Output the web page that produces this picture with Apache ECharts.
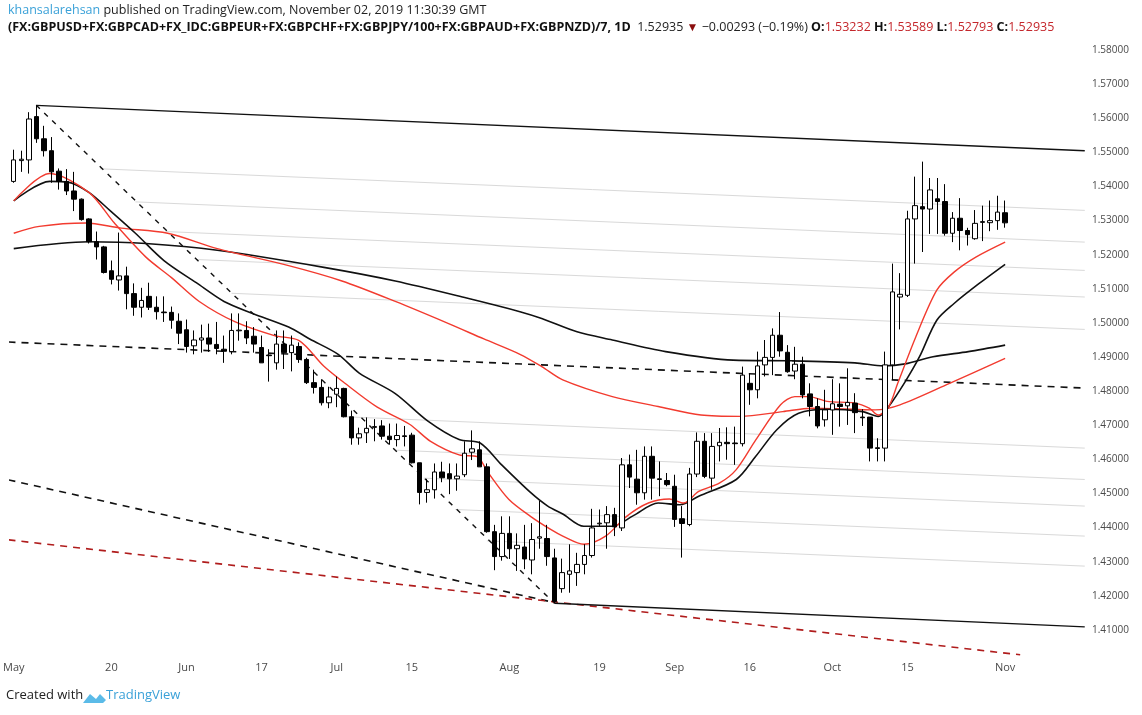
<!DOCTYPE html>
<html><head><meta charset="utf-8">
<script src="https://cdn.jsdelivr.net/npm/echarts@6/dist/echarts.min.js"></script>
<style>html,body{margin:0;padding:0;background:#fff}#c{width:1142px;height:715px}</style>
</head><body><div id="c"></div>
<script>
// OHLC per trading day, [open, close, low, high]
const candles = [
[1.5415,1.5478,1.5411,1.5508],[1.5476,1.5480,1.5443,1.5505],[1.5478,1.5598,1.5438,1.5618],[1.5605,1.5540,1.5528,1.5638],
[1.5540,1.5505,1.5488,1.5578],[1.5505,1.5443,1.5411,1.5545],[1.5445,1.5415,1.5391,1.5453],[1.5415,1.5387,1.5375,1.5451],
[1.5387,1.5363,1.5328,1.5443],[1.5363,1.5303,1.5300,1.5365],[1.5305,1.5238,1.5233,1.5307],[1.5238,1.5223,1.5186,1.5268],
[1.5223,1.5148,1.5145,1.5226],[1.5153,1.5128,1.5113,1.5183],[1.5126,1.5138,1.5095,1.5265],[1.5138,1.5086,1.5040,1.5165],
[1.5086,1.5046,1.5021,1.5116],[1.5046,1.5066,1.5016,1.5103],[1.5078,1.5046,1.5038,1.5118],[1.5046,1.5033,1.5010,1.5078],
[1.5032,1.5030,1.5003,1.5078],[1.5031,1.5008,1.4983,1.5048],[1.5005,1.4970,1.4938,1.5028],[1.4980,1.4931,1.4913,1.5010],
[1.4933,1.4950,1.4908,1.4978],[1.4950,1.4956,1.4913,1.4995],[1.4956,1.4938,1.4915,1.4998],[1.4937,1.4925,1.4908,1.5003],
[1.4923,1.4917,1.4883,1.4963],[1.4916,1.4978,1.4908,1.5028],[1.4977,1.4979,1.4948,1.5028],[1.4978,1.4956,1.4938,1.5005],
[1.4961,1.4938,1.4913,1.4988],[1.4928,1.4883,1.4883,1.4963],[1.4906,1.4904,1.4828,1.4923],[1.4883,1.4938,1.4863,1.4978],
[1.4938,1.4913,1.4865,1.4978],[1.4913,1.4935,1.4858,1.4963],[1.4931,1.4893,1.4883,1.4943],[1.4893,1.4825,1.4821,1.4898],
[1.4825,1.4811,1.4793,1.4863],[1.4811,1.4766,1.4758,1.4835],[1.4766,1.4783,1.4750,1.4813],[1.4791,1.4808,1.4753,1.4843],
[1.4808,1.4725,1.4723,1.4810],[1.4725,1.4663,1.4643,1.4743],[1.4663,1.4675,1.4643,1.4693],[1.4678,1.4691,1.4648,1.4723],
[1.4696,1.4694,1.4653,1.4718],[1.4698,1.4668,1.4658,1.4715],[1.4668,1.4658,1.4643,1.4705],[1.4658,1.4670,1.4638,1.4705],
[1.4669,1.4667,1.4638,1.4698],[1.4671,1.4590,1.4588,1.4678],[1.4590,1.4503,1.4468,1.4590],[1.4503,1.4511,1.4473,1.4543],
[1.4511,1.4563,1.4485,1.4588],[1.4563,1.4546,1.4533,1.4593],[1.4558,1.4543,1.4498,1.4588],[1.4543,1.4551,1.4508,1.4588],
[1.4555,1.4618,1.4548,1.4653],[1.4621,1.4631,1.4598,1.4685],[1.4628,1.4578,1.4578,1.4653],[1.4578,1.4388,1.4385,1.4588],
[1.4388,1.4315,1.4275,1.4408],[1.4315,1.4383,1.4303,1.4433],[1.4383,1.4338,1.4308,1.4433],[1.4338,1.4348,1.4273,1.4383],
[1.4343,1.4308,1.4278,1.4408],[1.4305,1.4365,1.4263,1.4413],[1.4369,1.4373,1.4338,1.4478],[1.4368,1.4315,1.4288,1.4408],
[1.4311,1.4183,1.4178,1.4338],[1.4221,1.4268,1.4209,1.4309],[1.4263,1.4273,1.4209,1.4351],[1.4268,1.4292,1.4229,1.4326],
[1.4292,1.4318,1.4263,1.4351],[1.4318,1.4399,1.4312,1.4455],[1.4411,1.4413,1.4404,1.4453],[1.4414,1.4438,1.4338,1.4463],
[1.4438,1.4402,1.4375,1.4458],[1.4399,1.4584,1.4390,1.4604],[1.4584,1.4548,1.4516,1.4614],[1.4542,1.4502,1.4467,1.4628],
[1.4502,1.4609,1.4482,1.4638],[1.4609,1.4545,1.4482,1.4638],[1.4543,1.4541,1.4492,1.4594],[1.4538,1.4526,1.4521,1.4560],
[1.4521,1.4424,1.4402,1.4555],[1.4426,1.4412,1.4312,1.4463],[1.4409,1.4557,1.4404,1.4575],[1.4557,1.4653,1.4548,1.4679],
[1.4653,1.4550,1.4545,1.4677],[1.4545,1.4638,1.4511,1.4677],[1.4640,1.4650,1.4594,1.4692],[1.4650,1.4646,1.4599,1.4694],
[1.4648,1.4646,1.4584,1.4696],[1.4646,1.4847,1.4638,1.4872],[1.4823,1.4804,1.4760,1.4852],[1.4804,1.4874,1.4779,1.4916],
[1.4877,1.4899,1.4843,1.4950],[1.4899,1.4964,1.4847,1.4984],[1.4964,1.4918,1.4901,1.5032],[1.4914,1.4857,1.4854,1.4935],
[1.4859,1.4879,1.4835,1.4930],[1.4879,1.4789,1.4779,1.4901],[1.4792,1.4755,1.4726,1.4823],[1.4755,1.4698,1.4691,1.4779],
[1.4716,1.4745,1.4696,1.4804],[1.4745,1.4763,1.4672,1.4835],[1.4762,1.4755,1.4696,1.4823],[1.4757,1.4767,1.4701,1.4867],
[1.4765,1.4737,1.4677,1.4794],[1.4724,1.4722,1.4698,1.4747],[1.4724,1.4633,1.4594,1.4724],[1.4634,1.4632,1.4594,1.4662],
[1.4633,1.4877,1.4594,1.4916],[1.4877,1.5091,1.4833,1.5174],[1.5076,1.5084,1.4981,1.5146],[1.5081,1.5305,1.5076,1.5329],
[1.5305,1.5344,1.5174,1.5429],[1.5341,1.5334,1.5208,1.5473],[1.5334,1.5390,1.5261,1.5425],[1.5364,1.5356,1.5261,1.5425],
[1.5356,1.5263,1.5256,1.5407],[1.5263,1.5307,1.5237,1.5325],[1.5307,1.5271,1.5213,1.5366],[1.5271,1.5259,1.5227,1.5279],
[1.5247,1.5292,1.5244,1.5331],[1.5297,1.5295,1.5240,1.5344],[1.5294,1.5300,1.5269,1.5359],[1.5300,1.5325,1.5273,1.5373],
[1.53232,1.52935,1.52793,1.53589]
];
const extraSlots = 10;
const tickIndex = [0,13,23,33,43,53,66,78,88,98,109,119,132];
const tickText = ['May','20','Jun','17','Jul','15','Aug','19','Sep','16','Oct','15','Nov'];
// moving averages read at sample points [dayIndex, value]
const maRedFast = [[0,1.5358],[4.8,1.5438],[10,1.5383],[13.4,1.5293],[17.6,1.5193],[21,1.5133],[24.7,1.5063],[29.5,1.5003],[34.7,1.4963],[38,1.4948],[41.3,1.4873],[44.1,1.4823],[48.4,1.4753],[52.7,1.4703],[55.5,1.4653],[59.3,1.4613],[61.7,1.4608],[63.1,1.4563],[65.9,1.4483],[68.8,1.4433],[71.6,1.4393],[73.1,1.4375],[75.9,1.4351],[78.8,1.4375],[81.6,1.4433],[84.5,1.4472],[87.3,1.4484],[89.2,1.4472],[91.2,1.4506],[94,1.4531],[96.2,1.4570],[98.8,1.4657],[102.1,1.4760],[104,1.4784],[105.9,1.4784],[108.3,1.4770],[112,1.4765],[113.9,1.4750],[115.1,1.4730],[116.5,1.4755],[117.7,1.4823],[120.1,1.4959],[122.9,1.5096],[125.2,1.5149],[128.1,1.5193],[132,1.5237]];
const maBlackFast = [[0,1.5358],[4.8,1.5415],[7.2,1.5413],[10,1.5383],[12.9,1.5328],[16.2,1.5263],[20,1.5183],[24.3,1.5118],[28,1.5063],[31.8,1.5028],[36.6,1.4988],[39.4,1.4953],[43.2,1.4908],[46,1.4853],[50.8,1.4793],[55.1,1.4713],[59.3,1.4658],[62.1,1.4648],[65,1.4583],[68.8,1.4503],[71.1,1.4463],[73.1,1.4440],[75.9,1.4404],[79.7,1.4404],[82.5,1.4435],[85.8,1.4472],[88.7,1.4467],[91.2,1.4492],[96.2,1.4541],[98.8,1.4609],[101.6,1.4687],[104.5,1.4735],[108.3,1.4747],[113,1.4740],[115.1,1.4726],[116.5,1.4755],[118.7,1.4828],[120.6,1.4901],[122.9,1.5008],[125.2,1.5057],[128.5,1.5115],[132,1.5172]];
const maRedSlow = [[0,1.5263],[3.4,1.5283],[9.6,1.5293],[14.3,1.5278],[20.5,1.5263],[27.1,1.5218],[36.6,1.5168],[43.7,1.5123],[50.8,1.5063],[57.9,1.4998],[62.6,1.4953],[67.4,1.4908],[70.3,1.4872],[73.1,1.4833],[79.7,1.4784],[85.8,1.4755],[91.5,1.4730],[96.7,1.4726],[102.4,1.4740],[106.2,1.4750],[114.7,1.4745],[118,1.4760],[124.6,1.4823],[132,1.4896]];
const maBlackSlow = [[0,1.5218],[10,1.5238],[17.6,1.5233],[27.1,1.5213],[41.3,1.5163],[50.8,1.5123],[60.3,1.5073],[67.4,1.5033],[70.3,1.5013],[75,1.4974],[79.7,1.4950],[86.8,1.4916],[95.8,1.4891],[103.5,1.4889],[112,1.4883],[115.8,1.4874],[118.7,1.4880],[122.4,1.4901],[127.1,1.4916],[132,1.4935]];
// trend lines [[idx,val],[idx,val]]
const topLine = [[3,1.5638],[142.6,1.5505]];
const steepLine = [[3,1.5638],[72,1.4178]];
const midDashed = [[-0.7,1.4944],[142.6,1.4809]];
const lowDashed = [[-0.7,1.4540],[72,1.4180]];
const redDashed = [[-0.7,1.4364],[134,1.4027]];
const bottomLine = [[72,1.4178],[142.6,1.4109]];
const grayLines = [
 [[11.5,1.5452],[142.6,1.5330]],[[16.2,1.5355],[142.6,1.5237]],[[20.2,1.5268],[142.6,1.5154]],
 [[24.3,1.5186],[142.6,1.5076]],[[29.0,1.5087],[142.6,1.4981]],[[44.1,1.4725],[142.6,1.4633]],
 [[50.8,1.4627],[142.6,1.4541]],[[54.6,1.4545],[142.6,1.4463]],[[58.8,1.4453],[142.6,1.4375]],[[63,1.4361],[142.6,1.4287]]
];

const N = candles.length + extraSlots;
const cats = [];
for (let i = 0; i < N; i++) cats.push(String(i));
const labelMap = {};
tickIndex.forEach((t, k) => labelMap[t] = tickText[k]);

function line(data, color, type, width, z, smooth) {
  return {type:'line', xAxisIndex:1, data, symbol:'none', silent:true, animation:false, z:z||3,
    smooth: smooth||false, lineStyle:{color, type:type||'solid', width:width||1.3}};
}
const series = [];
grayLines.forEach(g => series.push(line(g, '#d9d9d9', 'solid', 1, 1)));
series.push(line(topLine, '#111', 'solid', 1.4));
series.push(line(steepLine, '#111', [5,6], 1.4));
series.push(line(midDashed, '#111', [7,6], 1.6));
series.push(line(lowDashed, '#111', [7,6], 1.6));
series.push(line(redDashed, '#b01c1c', [7,6], 1.6));
series.push(line(bottomLine, '#111', 'solid', 1.4));
series.push(line(maBlackSlow, '#111', 'solid', 1.6, 4, 0.3));
series.push(line(maRedSlow, '#f23b2f', 'solid', 1.4, 4, 0.3));
series.push(line(maBlackFast, '#111', 'solid', 1.6, 4, 0.3));
series.push(line(maRedFast, '#f23b2f', 'solid', 1.4, 4, 0.3));
series.push({type:'candlestick', xAxisIndex:0, data:candles, barWidth:5, z:5, animation:false,
  itemStyle:{color:'#fff', color0:'#000', borderColor:'#000', borderColor0:'#000', borderWidth:1}});

const chart = echarts.init(document.getElementById('c'), null, {renderer:'canvas'});
const font = "'Open Sans', 'Liberation Sans', sans-serif";
chart.setOption({
  backgroundColor:'#fff', animation:false,
  grid:{left:6, right:58, top:16, bottom:51},
  xAxis:[
    {type:'category', data:cats, boundaryGap:true,
     axisLine:{show:false}, axisTick:{show:false}, splitLine:{show:false},
     axisLabel:{interval:0, margin:-2, color:'#4a4a4a', fontSize:11, fontFamily:font,
       formatter:(v,i)=> labelMap[i] !== undefined ? labelMap[i] : ''}},
    {type:'value', min:-0.5, max:N-0.5, show:false}
  ],
  yAxis:{type:'value', position:'right', min:1.40, max:1.59, interval:0.01, scale:true,
    axisLine:{show:false}, axisTick:{show:false}, splitLine:{show:false},
    axisLabel:{margin:8, color:'#4a4a4a', fontSize:10, fontFamily:font,
      formatter:v=> (v < 1.405 || v > 1.585) ? '' : v.toFixed(5)}},
  series,
  graphic:[
    {type:'text', left:8, top:4, style:{fontFamily:font, fontSize:12.5, rich:{
        a:{fill:'#3aa1d8', fontSize:12.5, fontFamily:font}, b:{fill:'#222', fontSize:12.5, fontFamily:font}},
      text:'{a|khansalarehsan}{b| published on TradingView.com, November 02, 2019 11:30:39 GMT}'}},
    {type:'text', left:8, top:21, style:{fontFamily:font, fontSize:12.5, rich:{
        k:{fill:'#111', fontWeight:'bold', fontSize:12.5, fontFamily:font},
        n:{fill:'#222', fontSize:12.5, fontFamily:font},
        d:{fill:'#8b0e0e', fontSize:12, fontFamily:font},
        r:{fill:'#c4262b', fontSize:12.5, fontFamily:font}},
      text:'{k|(FX:GBPUSD+FX:GBPCAD+FX_IDC:GBPEUR+FX:GBPCHF+FX:GBPJPY/100+FX:GBPAUD+FX:GBPNZD)/7, 1D}{n|  1.52935 }{d|▼}{n| −0.00293 (−0.19%) }{k|O:}{r|1.53232 }{k|H:}{r|1.53589 }{k|L:}{r|1.52793 }{k|C:}{r|1.52935}'}},
    {type:'text', left:6, top:689, style:{fontFamily:font, fontSize:13, rich:{
        n:{fill:'#222', fontSize:13, fontFamily:font}},
      text:'{n|Created with}'}},
    {type:'polygon', shape:{points:[[83,703],[90,694],[96,699],[100,694],[106,700],[103,703]]}, style:{fill:'#5bbbe8'}},
    {type:'text', left:106, top:689, style:{fontFamily:font, fontSize:13, fill:'#3aa1d8', text:'TradingView'}}
  ]
});
</script></body></html>
